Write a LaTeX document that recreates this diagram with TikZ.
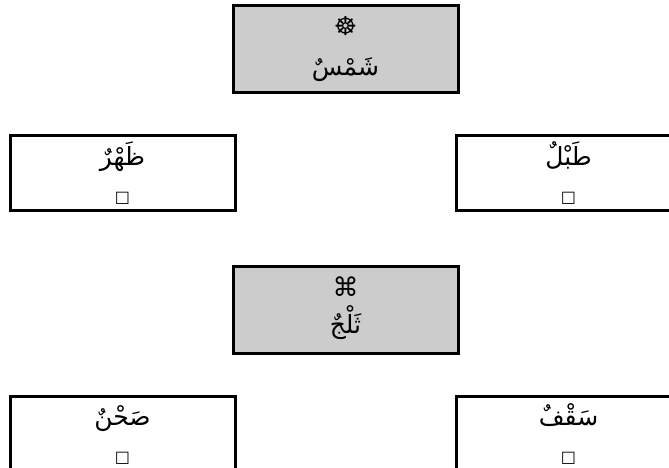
\documentclass[tikz,border=0pt]{standalone}
\usepackage{fontspec}
\TeXXeTstate=1
\newfontfamily\arabicfont[Script=Arabic]{DejaVu Sans}
\newfontfamily\symfont{DejaVu Sans}
\definecolor{boxgray}{HTML}{CCCCCC}
\tikzset{
  box/.style={draw=black, line width=3pt, rectangle, minimum width=225pt, minimum height=74pt, inner sep=0pt},
  graybox/.style={box, fill=boxgray, minimum height=87pt},
  arlabel/.style={anchor=base, inner sep=0pt, font=\arabicfont\fontsize{25}{30}\selectfont},
  symlabel/.style={anchor=base, inner sep=0pt, font=\symfont\fontsize{26}{30}\selectfont},
  sqlabel/.style={anchor=base, inner sep=0pt, font=\symfont\fontsize{16}{20}\selectfont},
}
\begin{document}
\begin{tikzpicture}[x=1pt,y=-1pt]
\useasboundingbox (0,0) rectangle (669,468);
% boxes
\node[graybox] (shams) at (345.5,49.5) {};
\node[box] (zuhr) at (122.5,173) {};
\node[box] (tabl) at (568.5,173) {};
\node[graybox] (thalj) at (345.5,310) {};
\node[box] (sahn) at (122.5,433) {};
\node[box] (saqf) at (568.5,433) {};
% labels
\node[symlabel] (shamsicon) at (345.5,36) {☸};
\node[arlabel] (shamstext) at (345.5,76) {\beginR شَمْسٌ\endR};
\node[arlabel] (zuhrtext) at (122.5,165) {\beginR ظَهْرٌ\endR};
\node[sqlabel] (zuhricon) at (122.5,202) {□};
\node[arlabel] (tabltext) at (568.5,165) {\beginR طَبْلٌ\endR};
\node[sqlabel] (tablicon) at (568.5,202) {□};
\node[symlabel] (thalicon) at (345.5,296) {⌘};
\node[arlabel] (thaltext) at (345.5,333) {\beginR ثَلْجٌ\endR};
\node[arlabel] (sahntext) at (122.5,425) {\beginR صَحْنٌ\endR};
\node[sqlabel] (sahnicon) at (122.5,462) {□};
\node[arlabel] (saqftext) at (568.5,425) {\beginR سَقْفٌ\endR};
\node[sqlabel] (saqficon) at (568.5,462) {□};
\end{tikzpicture}
\end{document}
